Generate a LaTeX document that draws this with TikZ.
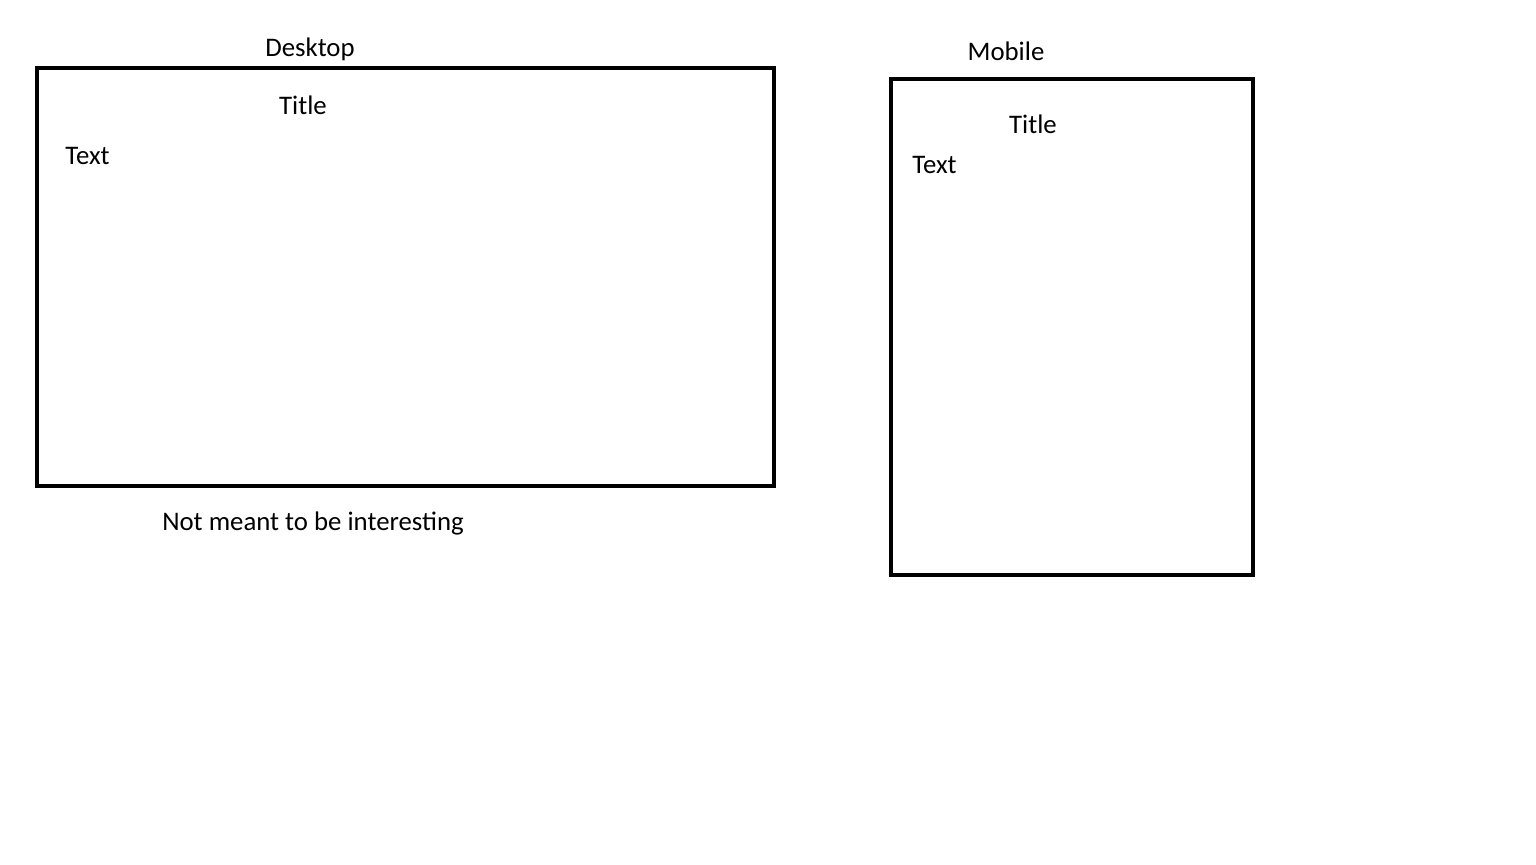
\documentclass[tikz,border=0pt]{standalone}
\usepackage{fontspec}
\setmainfont{Carlito}
\begin{document}
\begin{tikzpicture}[x=0.5pt,y=-0.5pt,
  frame/.style={draw=black,line width=2.25pt},
  lbl/.style={font=\fontsize{13.4pt}{15pt}\selectfont,inner sep=0pt,anchor=center},
  lbll/.style={lbl,anchor=west}]
\useasboundingbox (0,0) rectangle (1536,864);
\node[frame,minimum width=368.5pt,minimum height=209pt,inner sep=0pt] (desk) at (405.5,277) {};
\node[frame,minimum width=181pt,minimum height=248pt,inner sep=0pt] (mob) at (1072,327) {};
\node[lbl] (deskl) at (310,49) {Desktop};
\node[lbl] (deskt) at (303,105) {Title};
\node[lbll] (desktx) at (65,156) {Text};
\node[lbl] (note) at (313,523) {Not meant to be interesting};
\node[lbl] (mobl) at (1006,51) {Mobile};
\node[lbl] (mobt) at (1033,124) {Title};
\node[lbll] (mobtx) at (912,165) {Text};
\end{tikzpicture}
\end{document}
